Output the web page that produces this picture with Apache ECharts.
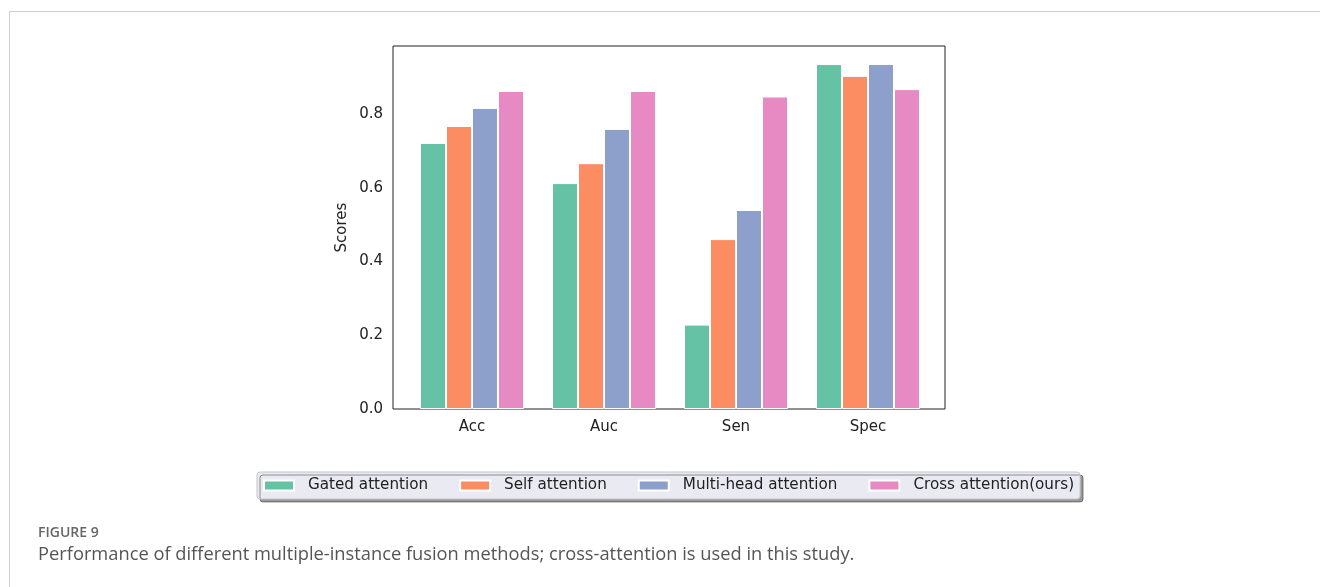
<!DOCTYPE html>
<html style="height: 100%">
<head>
    <meta charset="utf-8">
    <style type="text/css">
        .frame {
            position: absolute;
            left: 9px;
            top: 11px;
            right: -5px;
            bottom: -5px;
            border-top: 1px solid #cfcfcf;
            border-left: 1px solid #cfcfcf;
        }
    </style>
</head>
<body style="height: 100%; margin: 0; background: #fff">
    <div class="frame"></div>
    <div id="container" style="position: absolute; left: 0; top: 0; width: 1320px; height: 587px"></div>

    <script type="text/javascript" src="https://cdn.jsdelivr.net/npm/echarts@6/dist/echarts.min.js"></script>
    <script type="text/javascript">

        const categories = ["Acc", "Auc", "Sen", "Spec"];
        const methods = ["Gated attention", "Self attention", "Multi-head attention", "Cross attention(ours)"];
        const gatedScores = [0.722, 0.613, 0.229, 0.936];
        const selfScores = [0.768, 0.667, 0.461, 0.904];
        const multiHeadScores = [0.817, 0.760, 0.540, 0.936];
        const crossScores = [0.863, 0.863, 0.848, 0.868];
        const colors = ["#66c2a5", "#fc8d62", "#8da0cb", "#e78ac3"];

        const mainFont = "DejaVu Sans";

        let dom = document.getElementById('container');
        let myChart = echarts.init(dom, null, { renderer: 'canvas' });

        const seriesData = [gatedScores, selfScores, multiHeadScores, crossScores];
        let series = [];
        seriesData.forEach((list, i) => {
            series.push({
                name: methods[i],
                type: 'bar',
                xAxisIndex: 0,
                yAxisIndex: 0,
                barWidth: 26,
                barGap: '0%',
                itemStyle: {
                    color: colors[i],
                    borderColor: '#fff',
                    borderWidth: 1
                },
                data: list
            });
        });

        let option = {
            animation: false,
            title: [
                {
                    text: 'FIGURE 9',
                    left: 38,
                    top: 526,
                    padding: 0,
                    textStyle: { fontFamily: 'Open Sans', fontSize: 14, fontWeight: 600, color: '#666' }
                },
                {
                    text: 'Performance of different multiple-instance fusion methods; cross-attention is used in this study.',
                    left: 38,
                    top: 546,
                    padding: 0,
                    textStyle: { fontFamily: 'Open Sans', fontSize: 18.3, fontWeight: 'normal', color: '#555' }
                }
            ],
            legend: {
                data: methods,
                left: 257,
                top: 472,
                icon: 'rect',
                itemWidth: 30,
                itemHeight: 10,
                itemGap: 31,
                padding: [6, 6, 6, 6],
                backgroundColor: '#eaeaf2',
                borderColor: '#c4c4c8',
                borderWidth: 1,
                borderRadius: 3,
                shadowColor: 'rgba(0,0,0,0.4)',
                shadowOffsetX: 3,
                shadowOffsetY: 3,
                shadowBlur: 0,
                textStyle: {
                    fontFamily: mainFont,
                    fontSize: 15.2,
                    color: '#222',
                    padding: [0, 0, 0, 9]
                }
            },
            grid: [
                { left: 406, right: 386, top: 46, bottom: 178 },
                { left: 393, width: 552, top: 46, height: 363, show: true, borderColor: '#222', borderWidth: 1, backgroundColor: 'transparent' }
            ],
            xAxis: [
                {
                    type: 'category',
                    gridIndex: 0,
                    data: categories,
                    axisLine: { show: false },
                    axisTick: { show: false },
                    axisLabel: { margin: 11, fontFamily: mainFont, fontSize: 15, color: '#222' }
                },
                { type: 'value', gridIndex: 1, show: false }
            ],
            yAxis: [
                {
                    type: 'value',
                    gridIndex: 0,
                    min: 0,
                    max: 0.985,
                    interval: 0.2,
                    offset: 13,
                    name: 'Scores',
                    nameLocation: 'middle',
                    nameGap: 43,
                    nameTextStyle: { fontFamily: mainFont, fontSize: 15, color: '#222' },
                    axisLine: { show: false },
                    axisTick: { show: false },
                    splitLine: { show: false },
                    axisLabel: {
                        margin: 10,
                        showMaxLabel: false,
                        fontFamily: mainFont,
                        fontSize: 15,
                        color: '#222',
                        formatter: (value) => value.toFixed(1)
                    }
                },
                { type: 'value', gridIndex: 1, show: false }
            ],
            series: series
        };

        myChart.setOption(option);
    </script>
</body>
</html>
